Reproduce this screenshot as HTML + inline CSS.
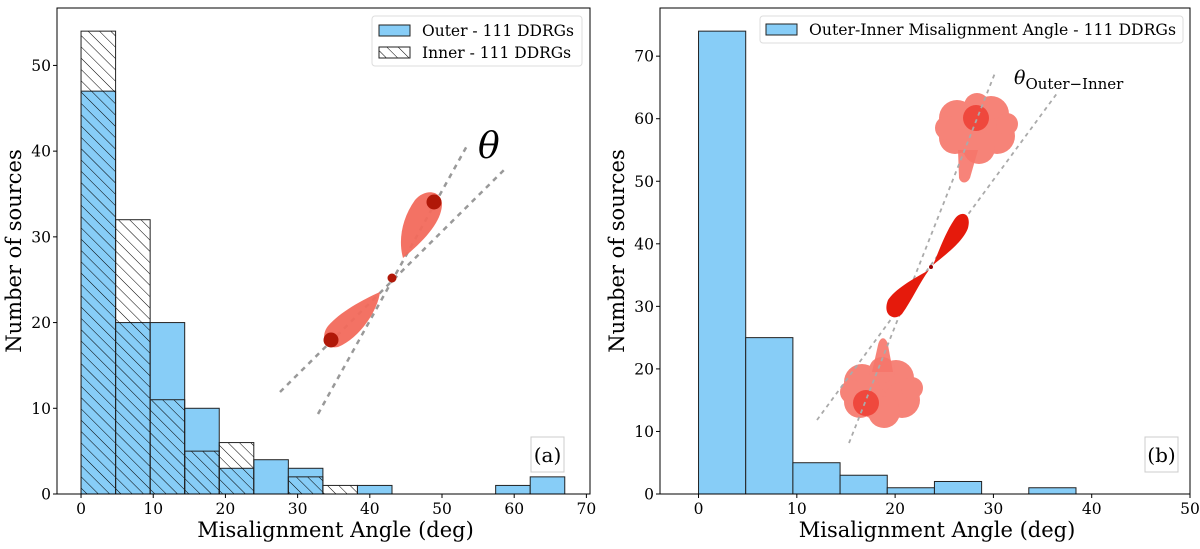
<!DOCTYPE html>
<html><head><meta charset="utf-8"><style>
html,body{margin:0;padding:0;background:#fff;}
svg text{font-family:"DejaVu Serif","Liberation Serif",serif;}
</style></head><body>
<svg id="fig" width="1200" height="544" viewBox="0 0 1200 544" xmlns="http://www.w3.org/2000/svg">
<defs>
<pattern id="hatch" patternUnits="userSpaceOnUse" width="8" height="8" patternTransform="rotate(-45)">
<line x1="0" y1="0" x2="0" y2="8" stroke="#000" stroke-width="1"/>
</pattern>
</defs>
<g id="left"></g>
<g id="right"></g>
</svg>
<script>
const binWidthA = 4.786;
const outerCounts = [47,20,20,10,3,4,3,0,1,0,0,0,1,2];
const innerCounts = [54,32,11,5,6,0,2,1,0,0,0,0,0,0];
const xTicksA = [0,10,20,30,40,50,60,70];
const yTicksA = [0,10,20,30,40,50];
const binWidthB = 4.8;
const diffCounts = [74,25,5,3,1,2,0,1];
const xTicksB = [0,10,20,30,40,50];
const yTicksB = [0,10,20,30,40,50,60,70];

const NS="http://www.w3.org/2000/svg";
function mk(parent,tag,attrs,text){const e=document.createElementNS(NS,tag);for(const k in attrs)e.setAttribute(k,attrs[k]);if(text!==undefined)e.textContent=text;parent.appendChild(e);return e;}

function axes(g,cfg){
  const sx=v=>cfg.x0+(v-cfg.xmin)*(cfg.x1-cfg.x0)/(cfg.xmax-cfg.xmin);
  const sy=v=>cfg.y0-(v-cfg.ymin)*(cfg.y0-cfg.y1)/(cfg.ymax-cfg.ymin);
  return {sx,sy};
}
function drawFrame(g,cfg,sx,sy,xt,yt){
  const f=mk(g,'rect',{x:cfg.x0,y:cfg.y1,width:cfg.x1-cfg.x0,height:cfg.y0-cfg.y1,fill:'none',stroke:'#000','stroke-width':1});
  
  xt.forEach(v=>{const x=sx(v);
    const t=mk(g,'line',{x1:x,y1:cfg.y0,x2:x,y2:cfg.y0+4,stroke:'#000'});
    
    const l=mk(g,'text',{x:x,y:cfg.y0+20,'text-anchor':'middle','font-size':15.5},String(v));
    });
  yt.forEach(v=>{const y=sy(v);
    const t=mk(g,'line',{x1:cfg.x0-4,y1:y,x2:cfg.x0,y2:y,stroke:'#000'});
    
    const l=mk(g,'text',{x:cfg.x0-6,y:y+5.5,'text-anchor':'end','font-size':15.5},String(v));
    });
  const xl=mk(g,'text',{x:(cfg.x0+cfg.x1)/2+12,y:537,'text-anchor':'middle','font-size':21},'Misalignment Angle (deg)');
  
  const yx=cfg.x0-36, yy=(cfg.y0+cfg.y1)/2;
  const yl=mk(g,'text',{x:yx,y:yy,'text-anchor':'middle','font-size':21,transform:`rotate(-90 ${yx} ${yy})`},'Number of sources');
  
}

// Panel A
(function(){
  const g=document.getElementById('left');
  const cfg={x0:57,x1:590,y0:494,y1:8,xmin:-3.33,xmax:70.5,ymin:0,ymax:56.7};
  const {sx,sy}=axes(g,cfg);
  outerCounts.forEach((c,i)=>{ if(!c)return;
    const x=sx(i*binWidthA), w=sx((i+1)*binWidthA)-x;
    const r=mk(g,'rect',{x:x,y:sy(c),width:w,height:sy(0)-sy(c),fill:'#87cdf7',stroke:'#222','stroke-width':1});
    });
  innerCounts.forEach((c,i)=>{ if(!c)return;
    const x=sx(i*binWidthA), w=sx((i+1)*binWidthA)-x;
    const r=mk(g,'rect',{x:x,y:sy(c),width:w,height:sy(0)-sy(c),fill:'url(#hatch)',stroke:'#222','stroke-width':1});
    });
  drawFrame(g,cfg,sx,sy,xTicksA,yTicksA);
  const il=mk(g,'g',{});
  mk(il,'line',{x1:280,y1:392,x2:505,y2:169,stroke:'#999','stroke-width':2.5,'stroke-dasharray':'5,5'});
  mk(il,'line',{x1:318,y1:414,x2:468,y2:144,stroke:'#999','stroke-width':2.5,'stroke-dasharray':'5,5'});
  mk(il,'path',{d:'M403 258 C398 240 402 218 415 200 C425 188 442 190 442 205 C441 222 425 240 403 258 Z',fill:'#f26a5c',opacity:0.95});
  mk(il,'path',{d:'M380 292 C378 310 360 338 338 347 C325 350 320 336 328 326 C340 312 362 300 380 292 Z',fill:'#f26a5c',opacity:0.95});
  mk(il,'circle',{cx:434,cy:202,r:7.5,fill:'#b01808'});
  mk(il,'circle',{cx:331,cy:340,r:7.5,fill:'#b01808'});
  mk(il,'circle',{cx:392,cy:278,r:4.5,fill:'#b01808'});
  const th=mk(g,'text',{x:478,y:158,'font-size':36,'font-style':'italic'},'θ');
  
  const lg=mk(g,'g',{});
  mk(lg,'rect',{x:372,y:16,width:210,height:50,rx:3,fill:'#fff',stroke:'#ddd'});
  const e1=mk(lg,'rect',{x:379,y:25,width:31,height:11,fill:'#87cdf7',stroke:'#222'});
  
  mk(lg,'text',{x:422,y:36,'font-size':15.5},'Outer - 111 DDRGs');
  const e2=mk(lg,'rect',{x:379,y:47,width:31,height:11,fill:'url(#hatch)',stroke:'#222'});
  
  mk(lg,'text',{x:422,y:58,'font-size':15.5},'Inner - 111 DDRGs');
  const pb=mk(g,'g',{});
  mk(pb,'rect',{x:531,y:437,width:33,height:35,fill:'#fff',stroke:'#ccc'});
  mk(pb,'text',{x:547.5,y:462,'text-anchor':'middle','font-size':20},'(a)');
})();

// Panel B
(function(){
  const g=document.getElementById('right');
  const cfg={x0:660,x1:1190,y0:494,y1:8,xmin:-3.92,xmax:50,ymin:0,ymax:77.7};
  const {sx,sy}=axes(g,cfg);
  diffCounts.forEach((c,i)=>{ if(!c)return;
    const x=sx(i*binWidthB), w=sx((i+1)*binWidthB)-x;
    const r=mk(g,'rect',{x:x,y:sy(c),width:w,height:sy(0)-sy(c),fill:'#87cdf7',stroke:'#222','stroke-width':1});
    });
  drawFrame(g,cfg,sx,sy,xTicksB,yTicksB);
  const il=mk(g,'g',{});
  function cloud(cx,cy){
    const c=mk(il,'g',{fill:'#f6766a',opacity:0.9});
    [[0,0,28],[-18,-10,18],[16,-14,18],[-20,10,16],[22,8,18],[4,20,16],[2,-22,13],[-28,0,12],[32,-4,11]].forEach(p=>mk(c,'circle',{cx:cx+p[0],cy:cy+p[1],r:p[2]}));
    return c;
  }
  cloud(975,128);
  mk(il,'path',{d:'M958 150 L978 150 L970 178 C967 184 961 184 959 178 Z',fill:'#f6766a',opacity:0.9});
  cloud(880,392);
  mk(il,'path',{d:'M872 372 L893 372 L888 345 C886 336 880 336 878 345 Z',fill:'#f6766a',opacity:0.9});
  mk(il,'circle',{cx:976,cy:118,r:13,fill:'#ee3a2e',opacity:0.8});
  mk(il,'circle',{cx:866,cy:403,r:13,fill:'#ee3a2e',opacity:0.8});
  mk(il,'line',{x1:849,y1:443,x2:995,y2:73,stroke:'#aaa','stroke-width':1.8,'stroke-dasharray':'4,4'});
  mk(il,'line',{x1:817,y1:420,x2:1058,y2:92,stroke:'#aaa','stroke-width':1.8,'stroke-dasharray':'4,4'});
  mk(il,'path',{d:'M933 265 C940 248 946 232 954 220 C960 210 972 212 968 228 C963 242 945 255 933 265 Z',fill:'#e51a0c'});
  mk(il,'path',{d:'M929 270 C920 282 912 300 902 314 C894 322 882 315 888 300 C896 288 915 278 929 270 Z',fill:'#e51a0c'});
  mk(il,'circle',{cx:931,cy:267,r:2,fill:'#900'});
  const tl=mk(g,'text',{x:1014,y:84,'font-size':19},'');
  
  mk(tl,'tspan',{'font-style':'italic'},'θ');
  mk(tl,'tspan',{dy:5,'font-size':15},'Outer−Inner');
  const lg=mk(g,'g',{});
  mk(lg,'rect',{x:760,y:16,width:423,height:27,rx:3,fill:'#fff',stroke:'#ddd'});
  const e1=mk(lg,'rect',{x:766,y:24,width:31,height:11,fill:'#87cdf7',stroke:'#222'});
  
  mk(lg,'text',{x:809,y:35,'font-size':15.5,textLength:367,lengthAdjust:'spacingAndGlyphs'},'Outer-Inner Misalignment Angle - 111 DDRGs');
  const pb=mk(g,'g',{});
  mk(pb,'rect',{x:1145,y:437,width:33,height:35,fill:'#fff',stroke:'#ccc'});
  mk(pb,'text',{x:1161.5,y:462,'text-anchor':'middle','font-size':20},'(b)');
})();
</script>
</body></html>
